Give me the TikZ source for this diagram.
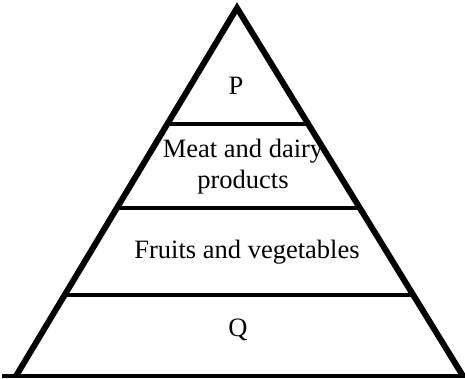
\documentclass[tikz,border=0pt]{standalone}
\usepackage{fontspec}
\setmainfont{Liberation Serif}
\usetikzlibrary{calc}
\tikzset{
  side/.style={line width=6pt, line join=miter},
  tier/.style={line width=3.8pt},
  base/.style={line width=3.2pt},
  lbl/.style={align=center, inner sep=0pt, font=\fontsize{26.5}{31}\selectfont},
}
\begin{document}
\begin{tikzpicture}[x=1pt,y=-1pt]
  \useasboundingbox (0,0) rectangle (465,379);
  \coordinate (apex) at (237,8);
  \coordinate (bl) at (16,376);
  \coordinate (br) at (463,376);
  % sides and base
  \draw[side] (bl) -- (apex) -- (br);
  \draw[base] (2,376) -- (465,376);
  % tiers
  \draw[tier] ($(apex)!0.315!(bl)$) -- ($(apex)!0.315!(br)$);
  \draw[tier] ($(apex)!0.543!(bl)$) -- ($(apex)!0.543!(br)$);
  \draw[tier] ($(apex)!0.78!(bl)$) -- ($(apex)!0.78!(br)$);
  % labels
  \node[lbl] (p) at (236,86) {P};
  \node[lbl] (meat) at (243,167) {Meat and dairy\\products};
  \node[lbl] (fruit) at (247,252) {Fruits and vegetables};
  \node[lbl] (q) at (238,330) {Q};
\end{tikzpicture}
\end{document}
